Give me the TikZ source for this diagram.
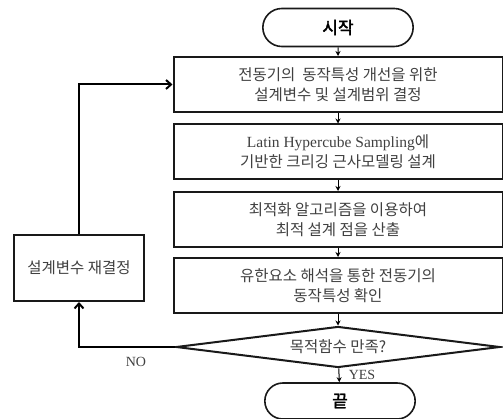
\documentclass[tikz,border=0pt]{standalone}
\usepackage{fontspec}
\setmainfont{Liberation Serif}
\newfontfamily\kr{Noto Sans CJK KR}[AutoFakeBold=2]
\usetikzlibrary{shapes.geometric,shapes.misc,arrows.meta}

\tikzset{
  stepbox/.style={draw=black!90,line width=2pt,rectangle,minimum width=329pt,
    minimum height=55pt,align=center,text=black!75,font=\kr\fontsize{15.5}{20}\selectfont},
  terminal/.style={draw=black!90,line width=1.6pt,rounded rectangle,minimum width=157pt,
    minimum height=38pt,font=\kr\bfseries\fontsize{17}{20}\selectfont},
  decision/.style={draw=black!90,line width=2pt,diamond,aspect=8,inner sep=1pt,
    minimum width=324pt,minimum height=41pt,text=black!75,font=\kr\fontsize{15.5}{20}\selectfont},
  flow/.style={line width=1pt,-{Stealth[length=5pt,width=5pt]}},
  loopback/.style={line width=2pt,-{Straight Barb[length=5pt,width=9pt]}},
  answer/.style={font=\fontsize{14}{16}\selectfont,text=black!75,inner sep=0pt}
}

\begin{document}
\begin{tikzpicture}[x=1pt,y=-1pt]
  \useasboundingbox (0,0) rectangle (503,419);

  \node[terminal] (start) at (338,27.5) {시작};
  \node[stepbox] (design) at (338,84.5) {전동기의\ \ 동작특성 개선을 위한\\설계변수 및 설계범위 결정};
  \node[stepbox] (kriging) at (338,152) {{\rmfamily Latin Hypercube Sampling}에\\기반한 크리깅 근사모델링 설계};
  \node[stepbox] (optim) at (338,219.5) {최적화 알고리즘을 이용하여\\최적 설계 점을 산출};
  \node[stepbox] (fem) at (338,285.5) {유한요소 해석을 통한 전동기의\\동작특성 확인};
  \node[decision] (check) at (338,347) {목적함수 만족?};
  \node[terminal,minimum height=36pt] (finish) at (340,401) {끝};
  \node[stepbox,minimum width=130pt,minimum height=66pt] (redo) at (79,268) {설계변수 재결정};

  \node[answer] (no) at (136,362) {NO};
  \node[answer] (yes) at (362,375) {YES};

  \foreach \from/\to in {start/design,design/kriging,kriging/optim,optim/fem,fem/check,check/finish}
    \draw[flow] (\from) -- (\to);

  \draw[loopback] (check.west) -| (redo.south);
  \draw[loopback] (redo.north) |- (design.west);
\end{tikzpicture}
\end{document}
